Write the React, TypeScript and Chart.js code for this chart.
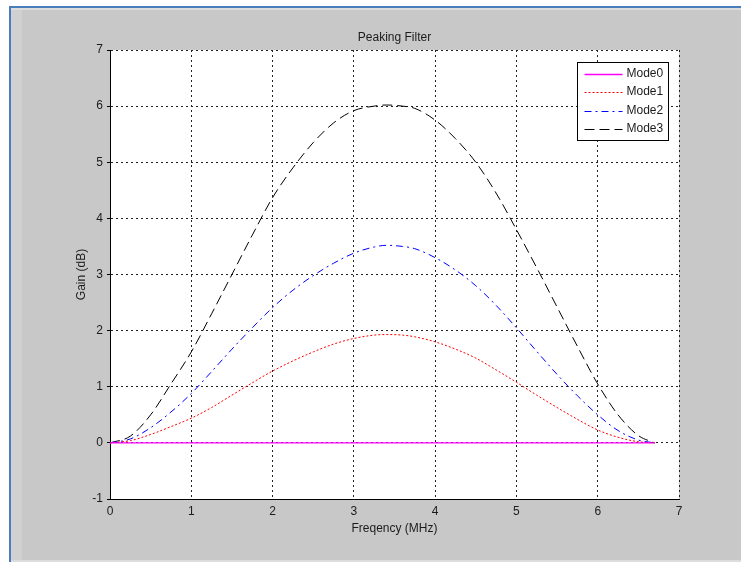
import React, { useEffect, useRef } from "react";
import { Chart, registerables } from "chart.js";

Chart.register(...registerables);

// ---- data ----
const freq = [0, 0.25, 0.5, 0.75, 1, 1.25, 1.5, 1.75, 2, 2.25, 2.5, 2.75, 3, 3.25, 3.4, 3.6, 3.75, 4, 4.25, 4.5, 4.75, 5, 5.25, 5.5, 5.75, 6, 6.25, 6.5, 6.7];
const mode0 = [0, 0, 0, 0, 0, 0, 0, 0, 0, 0, 0, 0, 0, 0, 0, 0, 0, 0, 0, 0, 0, 0, 0, 0, 0, 0, 0, 0, 0];
const mode1 = [0, 0.04, 0.15, 0.29, 0.44, 0.63, 0.85, 1.07, 1.28, 1.46, 1.62, 1.76, 1.86, 1.92, 1.93, 1.92, 1.89, 1.8, 1.67, 1.51, 1.3, 1.08, 0.85, 0.63, 0.42, 0.23, 0.1, 0.02, 0];
const mode2 = [0, 0.07, 0.27, 0.55, 0.88, 1.27, 1.67, 2.05, 2.41, 2.72, 2.98, 3.2, 3.38, 3.49, 3.52, 3.5, 3.46, 3.3, 3.08, 2.8, 2.45, 2.05, 1.63, 1.22, 0.84, 0.5, 0.22, 0.05, 0];
const mode3 = [0, 0.12, 0.5, 1.05, 1.62, 2.3, 3.0, 3.7, 4.37, 4.9, 5.35, 5.7, 5.92, 6.0, 6.02, 6.0, 5.96, 5.75, 5.42, 5.0, 4.45, 3.8, 3.12, 2.42, 1.72, 1.05, 0.5, 0.13, 0];
const seriesNames = ["Mode0", "Mode1", "Mode2", "Mode3"];
const xRange = [0, 7];
const yRange = [-1, 7];
const titleText = "Peaking Filter";
const xTitle = "Freqency (MHz)";
const yTitle = "Gain (dB)";

const W = 741;
const H = 562;
const FONT = "'Liberation Sans', Arial, sans-serif";
const TEXT = "#1c1c1c";

const seriesStyles = [
  { color: "#ff00ff", dash: [] as number[], width: 1.3 },
  { color: "#ff0000", dash: [2, 2], width: 1 },
  { color: "#0000ff", dash: [7, 4, 2, 4], width: 1 },
  { color: "#000000", dash: [10, 5], width: 1 },
];

const bgPlugin = {
  id: "matlabBg",
  beforeDraw(chart: any) {
    const { ctx, chartArea: a } = chart;
    ctx.save();
    ctx.fillStyle = "#ffffff";
    ctx.fillRect(0, 0, W, H);
    ctx.fillStyle = "#c8c8c8";
    ctx.fillRect(11, 8, W - 11, 552);
    ctx.fillStyle = "#d0d0d0";
    ctx.fillRect(11, 8, 11, 552);
    ctx.fillStyle = "#dcdcdc";
    ctx.fillRect(11, 8, W - 11, 2);
    ctx.fillRect(11, 560, W - 11, 2);
    ctx.fillStyle = "#4a7ebb";
    ctx.fillRect(9, 6, W - 9, 2);
    ctx.fillRect(9, 6, 2, H - 6);
    ctx.fillStyle = "#ffffff";
    ctx.fillRect(a.left, a.top, a.right - a.left, a.bottom - a.top);
    ctx.restore();
  },
};

const legendPlugin = {
  id: "boxLegend",
  afterDraw(chart: any) {
    const { ctx, chartArea: a } = chart;
    const bx = Math.round(a.right - 102) + 0.5;
    const by = Math.round(a.top + 12) + 0.5;
    const bw = 91;
    const bh = 78;
    ctx.save();
    ctx.fillStyle = "#ffffff";
    ctx.fillRect(bx, by, bw, bh);
    ctx.strokeStyle = "#000000";
    ctx.lineWidth = 1;
    ctx.setLineDash([]);
    ctx.strokeRect(bx, by, bw, bh);
    ctx.font = `12px ${FONT}`;
    ctx.textBaseline = "middle";
    ctx.textAlign = "left";
    seriesNames.forEach((name, i) => {
      const y = by + 11 + i * 18.5;
      const st = seriesStyles[i];
      ctx.beginPath();
      ctx.setLineDash(st.dash);
      ctx.strokeStyle = st.color;
      ctx.lineWidth = st.width;
      ctx.moveTo(bx + 7, Math.round(y) + 0.5);
      ctx.lineTo(bx + 45, Math.round(y) + 0.5);
      ctx.stroke();
      ctx.setLineDash([]);
      ctx.fillStyle = TEXT;
      ctx.fillText(name, bx + 49, y);
    });
    ctx.restore();
  },
};

export default function App() {
  const ref = useRef<HTMLCanvasElement | null>(null);

  useEffect(() => {
    if (!ref.current) return;
    const allSeries = [mode0, mode1, mode2, mode3];
    const datasets = allSeries.map((vals, i) => ({
      label: seriesNames[i],
      data: freq.map((f, j) => ({ x: f, y: vals[j] })),
      borderColor: seriesStyles[i].color,
      borderDash: seriesStyles[i].dash,
      borderWidth: seriesStyles[i].width,
      pointRadius: 0,
      fill: false,
      cubicInterpolationMode: "monotone" as const,
    }));

    const chart = new Chart(ref.current, {
      type: "line",
      data: { datasets },
      plugins: [bgPlugin, legendPlugin],
      options: {
        responsive: false,
        animation: false,
        devicePixelRatio: 1,
        layout: { padding: { left: 0, right: 62, top: 0, bottom: 0 } },
        plugins: {
          legend: { display: false },
          tooltip: { enabled: false },
          title: {
            display: true,
            fullSize: false,
            text: titleText,
            color: TEXT,
            font: { family: FONT, size: 12, weight: "normal" },
            padding: { top: 30.8, bottom: 4.8 },
          },
        },
        scales: {
          x: {
            type: "linear",
            min: xRange[0],
            max: xRange[1],
            afterFit: (s: any) => {
              s.height = 63;
            },
            ticks: {
              stepSize: 1,
              color: TEXT,
              padding: 5,
              font: { family: FONT, size: 12 },
            },
            grid: {
              color: "#222",
              lineWidth: 1,
              drawTicks: false,
            },
            border: { display: true, color: "#000", width: 1, dash: [2, 3] },
            title: {
              display: true,
              text: xTitle,
              color: TEXT,
              font: { family: FONT, size: 12 },
              padding: { top: 0, bottom: 25.8 },
            },
          },
          y: {
            type: "linear",
            min: yRange[0],
            max: yRange[1],
            afterFit: (s: any) => {
              s.width = 110;
            },
            ticks: {
              stepSize: 1,
              color: TEXT,
              padding: 4,
              font: { family: FONT, size: 12 },
            },
            grid: {
              color: "#222",
              lineWidth: 1,
              drawTicks: true,
              tickLength: 3,
              tickColor: "#000",
              tickBorderDash: [],
            },
            border: { display: true, color: "#000", width: 1, dash: [2, 3] },
            title: {
              display: true,
              text: yTitle,
              color: TEXT,
              font: { family: FONT, size: 12 },
              padding: { top: 74.8, bottom: 0 },
            },
          },
        },
      },
    } as any);
    return () => chart.destroy();
  }, []);

  return (
    <div style={{ position: "absolute", left: 0, top: 0, width: W, height: H }}>
      <canvas ref={ref} width={W} height={H} style={{ display: "block", width: W, height: H }} />
    </div>
  );
}
